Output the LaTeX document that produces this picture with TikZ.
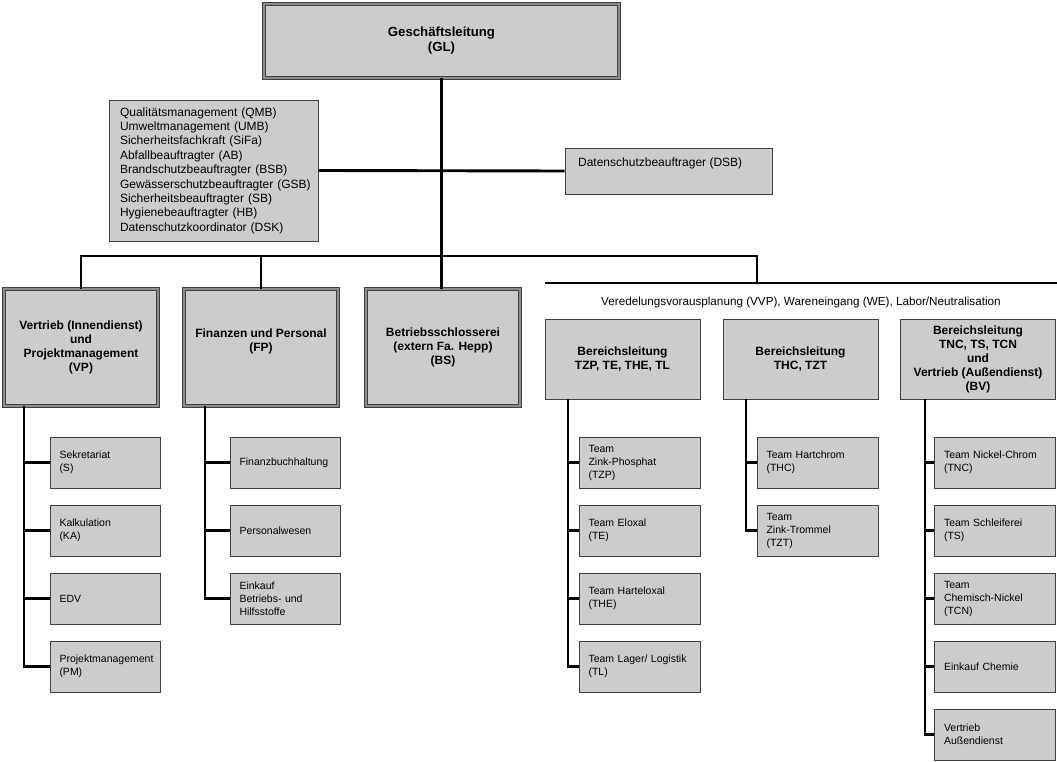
\documentclass[tikz,border=0pt]{standalone}
\usepackage{fontspec}
\setmainfont{Liberation Sans}
\usetikzlibrary{positioning}
\newcommand\kidfont{\fontsize{10.5}{13}\selectfont\hyphenpenalty10000 \exhyphenpenalty10000 }
\newcommand\stafffont{\fontsize{12}{14.4}\selectfont\hyphenpenalty10000 }

\begin{document}
\begin{tikzpicture}[x=1pt,y=-1pt,
  every node/.style={font=\fontsize{12}{14}\selectfont},
  box/.style={draw=black!75,fill=black!20,line width=0.8pt,inner sep=0pt},
  lead/.style={box,double=black!45,double distance=2pt,align=center,font=\fontsize{12}{14}\selectfont\bfseries},
  head/.style={box,minimum width=155,minimum height=80,align=center,font=\fontsize{12}{14}\selectfont\bfseries},
  kid/.style={box,minimum height=51,text width=#1,inner xsep=9.5,align=left,font=\kidfont},
  conn/.style={line width=2.9pt,black}]
  \useasboundingbox (0,0) rectangle (1057,762);

  \node[lead,minimum width=355,minimum height=74,font=\fontsize{13.2}{15}\selectfont\bfseries] (gl) at (441.5,41) {Geschäftsleitung\\(GL)};
  \node[box,minimum height=141,text width=187,inner xsep=11,align=left,font=\stafffont] (staff) at (213.5,170.5)
    {Qualitätsmanagement (QMB)\\Umweltmanagement (UMB)\\Sicherheitsfachkraft (SiFa)\\Abfallbeauftragter (AB)\\Brandschutzbeauftragter (BSB)\\Gewässerschutzbeauftragter~(GSB)\\Sicherheitsbeauftragter (SB)\\Hygienebeauftragter (HB)\\Datenschutzkoordinator (DSK)};
  \node[box,minimum width=207,minimum height=46] (dsb) at (668.5,171) {};
  \node[anchor=west,xshift=10,yshift=8] (dsbtext) at (dsb.west) {Datenschutzbeauftrager (DSB)};

  \node[lead,minimum width=154,minimum height=117] (vp) at (81,347.5) {Vertrieb (Innendienst)\\und\\Projektmanagement\\(VP)};
  \node[lead,minimum width=154,minimum height=117] (fp) at (261,347.5) {Finanzen und Personal\\(FP)\\\mbox{}};
  \node[lead,minimum width=154,minimum height=117] (bs) at (443,347.5) {Betriebsschlosserei\\(extern Fa. Hepp)\\(BS)};

  \node[font=\fontsize{11.7}{14}\selectfont] (vvp) at (801,302) {Veredelungsvorausplanung (VVP), Wareneingang (WE), Labor/Neutralisation};
  \node[head] (blz) at (622.5,359) {Bereichsleitung\\TZP, TE, THE, TL};
  \node[head] (blh) at (800.5,359) {Bereichsleitung\\THC, TZT};
  \node[head] (bln) at (978,359) {Bereichsleitung\\TNC, TS, TCN\\und\\Vertrieb (Außendienst)\\(BV)};

  \node[kid=91] (sek) at (105,462.5) {Sekretariat\\(S)};
  \node[kid=91] (kal) at (105,530.5) {Kalkulation\\(KA)};
  \node[kid=91] (edv) at (105,598.5) {EDV};
  \node[kid=91] (pm) at (105,666.5) {Projektmanagement\\(PM)};

  \node[kid=91] (fibu) at (285,462.5) {Finanzbuchhaltung};
  \node[kid=91] (pers) at (285,530.5) {Personalwesen};
  \node[kid=91] (eink) at (285,598.5) {Einkauf\\Betriebs- und\\Hilfsstoffe};

  \node[kid=102] (tzp) at (639.5,462.5) {Team\\Zink-Phosphat\\(TZP)};
  \node[kid=102] (te) at (639.5,530.5) {Team Eloxal\\(TE)};
  \node[kid=102] (the) at (639.5,598.5) {Team Harteloxal\\(THE)};
  \node[kid=102] (tl) at (639.5,666.5) {Team Lager/ Logistik\\(TL)};

  \node[kid=102] (thc) at (817.5,462.5) {Team Hartchrom\\(THC)};
  \node[kid=102] (tzt) at (817.5,530.5) {Team\\Zink-Trommel\\(TZT)};

  \node[kid=102] (tnc) at (995,462.5) {Team Nickel-Chrom\\(TNC)};
  \node[kid=102] (ts) at (995,530.5) {Team Schleiferei\\(TS)};
  \node[kid=102] (tcn) at (995,598.5) {Team\\Chemisch-Nickel\\(TCN)};
  \node[kid=102] (chem) at (995,666.5) {Einkauf Chemie};
  \node[kid=102] (vad) at (995,734.5) {Vertrieb\\Außendienst};

  \coordinate (bus) at (443,256);
  \coordinate (ops) at (757,283);
  \coordinate (opsl) at (545,283);
  \coordinate (opsr) at (1057,283);
  \coordinate (vpx) at (24,0);
  \coordinate (fpx) at (205,0);
  \coordinate (blzx) at (568,0);
  \coordinate (blhx) at (746,0);
  \coordinate (blnx) at (925,0);

  \draw[conn] (gl.south) -- (gl.south |- bs.north);
  \draw[conn] (staff.east) -- (dsb.west);
  \draw[conn] (vp.north) |- (bus) -| (ops);
  \draw[conn] (fp.north) -- (fp.north |- bus);
  \draw[conn] (opsl) -- (opsr);

  \draw[conn] (vpx |- vp.south) |- (pm.west);
  \draw[conn] (vpx |- sek.west) -- (sek.west);
  \draw[conn] (vpx |- kal.west) -- (kal.west);
  \draw[conn] (vpx |- edv.west) -- (edv.west);

  \draw[conn] (fpx |- fp.south) |- (eink.west);
  \draw[conn] (fpx |- fibu.west) -- (fibu.west);
  \draw[conn] (fpx |- pers.west) -- (pers.west);

  \draw[conn] (blzx |- blz.south) |- (tl.west);
  \draw[conn] (blzx |- tzp.west) -- (tzp.west);
  \draw[conn] (blzx |- te.west) -- (te.west);
  \draw[conn] (blzx |- the.west) -- (the.west);

  \draw[conn] (blhx |- blh.south) |- (tzt.west);
  \draw[conn] (blhx |- thc.west) -- (thc.west);

  \draw[conn] (blnx |- bln.south) |- (vad.west);
  \draw[conn] (blnx |- tnc.west) -- (tnc.west);
  \draw[conn] (blnx |- ts.west) -- (ts.west);
  \draw[conn] (blnx |- tcn.west) -- (tcn.west);
  \draw[conn] (blnx |- chem.west) -- (chem.west);
\end{tikzpicture}
\end{document}
